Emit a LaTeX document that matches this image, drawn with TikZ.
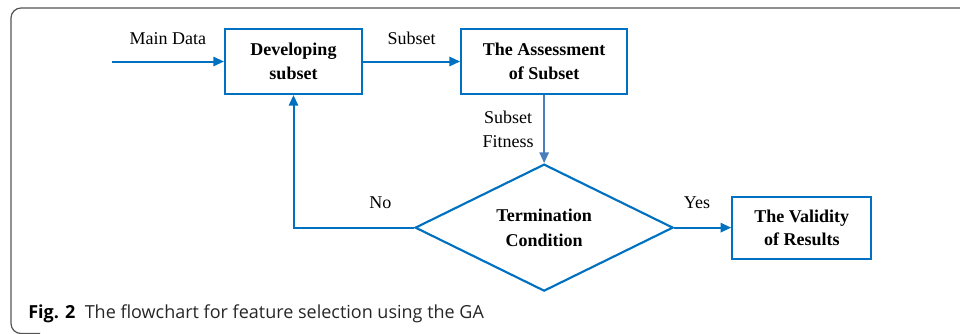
\documentclass[tikz,border=0pt]{standalone}
\usepackage{fontspec}
\setmainfont{Liberation Serif}
\newfontfamily\capfont{Open Sans}
\usetikzlibrary{arrows.meta,calc,positioning,shapes.geometric}

\definecolor{flowblue}{RGB}{0,112,192}
\definecolor{fitblue}{RGB}{74,126,187}
\definecolor{framegray}{RGB}{85,85,85}

\begin{document}
\begin{tikzpicture}[>={Triangle[length=8pt,width=7pt]}, auto, align=center,
		font=\fontsize{13.5}{18}\selectfont,
		block/.style={draw=flowblue, line width=1.6pt, minimum height=48.75pt, inner sep=2pt, font=\fontsize{13.5}{17.5}\selectfont\bfseries},
		decision/.style={diamond, draw=flowblue, line width=1.6pt, aspect=2, inner sep=0pt, minimum width=193.5pt, minimum height=95.25pt, font=\fontsize{13.5}{18.5}\selectfont\bfseries},
		flow/.style={draw=flowblue, line width=1.5pt}]
	\useasboundingbox (-220.125pt,46.125pt) rectangle (499.875pt,-203.625pt);
	% outer frame, cut at the right and bottom
	\draw[framegray, line width=0.9pt, rounded corners=7.5pt]
		(510pt,40.125pt) -- (-211.875pt,40.125pt) -- (-211.875pt,-204pt) -- (-190pt,-204pt);
	\node[block, minimum width=102.75pt] (dev) {Developing\\subset};
	\node[block, minimum width=124.5pt] [right=72.75pt of dev] (assess) {The Assessment\\of Subset};
	\node[decision] [below=51pt of assess] (term) {Termination\\Condition};
	\node[block, minimum width=104.25pt, minimum height=46.5pt] [right=42.75pt of term] (valid) {The Validity\\of Results};
	\coordinate [left=84pt of dev] (in);
	\path[->]
		(in) edge [flow] node [above=8.5pt, midway] {Main Data} (dev)
		(dev) edge [flow] node [above=8.5pt, midway] {Subset} (assess)
		(term) edge [flow] node [above=10pt, pos=0.4] {Yes} (valid)
		(assess) edge [draw=fitblue, line width=1.2pt] node [left=4pt, midway] {Subset\\Fitness} (term);
	\draw[->, flow] (term.west) -| node [above=10pt, pos=0.14] {No} (dev.south);
	% caption
	\node[anchor=base west, inner sep=0pt, font=\capfont\fontsize{13.5}{16}\selectfont] (cap) at (-199.125pt,-192.375pt)
		{\textbf{Fig. 2}\hspace{7pt}{\color{black!85}The flowchart for feature selection using the GA}};
\end{tikzpicture}
\end{document}
